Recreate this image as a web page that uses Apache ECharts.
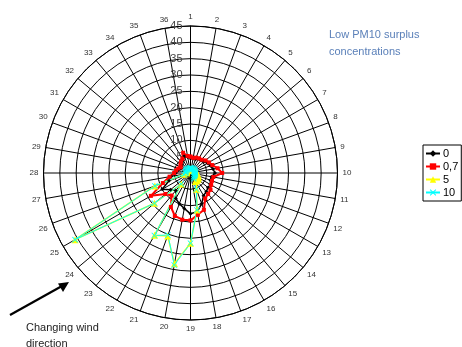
<!DOCTYPE html>
<html><head><meta charset="utf-8">
<script src="https://cdn.jsdelivr.net/npm/echarts@6/dist/echarts.min.js"></script>
<style>html,body{margin:0;padding:0;background:#fff}#c{width:462px;height:347px}</style>
</head><body><div id="c"></div>
<script>
// wind directions 1..36 (10 degree sectors, 1 = north, clockwise)
var directions = [];
for (var i = 1; i <= 36; i++) directions.push(i);
var radialTicks = [0,5,10,15,20,25,30,35,40,45];
var seriesNames = ['0', '0,7', '5', '10'];
var s0   = [4.5,4.5,4.5,5,5,5.5,6,6.5,7,7.5,6.5,6.5,7,7,7.5,8,10,12,12.5,11,10,9,7,8,10,7,6,4.5,4,3.5,3.5,3.5,4,4.5,5.5,5];
var s07  = [5,4.7,5,5.2,5.3,6,6.5,7.1,8.4,9.7,7.1,7,7.3,8,8.4,9,12,13,14.5,14.5,14,12,9,10,14,9,6.5,5,4.5,4,3.5,4,4.5,5,6.6,5.3];
var s5   = [1.2,1.2,1.2,1.2,1.2,1.2,1.5,1.5,1.8,2,2.2,2.5,2.8,3,3,3,5.3,11.5,21.5,28.2,20.5,22,4.4,14.4,40.8,11.6,2,1.2,1.2,1.2,1.2,1.2,1.2,1.2,1.2,1.2];
var s10  = [1.5,1.5,1.5,1.5,1.5,1.5,1.5,1.5,1.5,1.5,1.5,1.5,1.5,1.5,1.5,2,5.3,11.5,21.5,28.6,20.2,22.1,4.4,14.4,40.8,11.6,2,1.5,1.5,1.5,1.5,1.5,1.5,1.5,1.5,1.5];

function toPolar(vals){
  var out = vals.map(function(v, i){ return [v, (directions[i]-1)*10]; });
  out.push([vals[0], 360]);
  return out;
}
var xMark = 'path://M0,1L1,0L5,4L9,0L10,1L6,5L10,9L9,10L5,6L1,10L0,9L4,5Z';

var chart = echarts.init(document.getElementById('c'), null, {renderer:'canvas'});
chart.setOption({
  animation:false,
  backgroundColor:'#fff',
  polar:{center:[190.5,173], radius:147},
  angleAxis:{
    type:'value', min:0, max:360, interval:10, startAngle:90, clockwise:true,
    axisLine:{show:true, lineStyle:{color:'#000', width:1}},
    axisTick:{show:false},
    splitLine:{show:true, lineStyle:{color:'#000', width:1}},
    axisLabel:{show:true, margin:5, fontSize:8, color:'#333', fontFamily:'Liberation Sans, Arial',
      formatter:function(v){ return v>=360 ? '' : String(v/10+1); }}
  },
  radiusAxis:{
    type:'value', min:radialTicks[0], max:radialTicks[radialTicks.length-1], interval:5,
    axisLine:{show:true, lineStyle:{color:'#000', width:1}},
    axisTick:{show:false},
    splitLine:{show:true, lineStyle:{color:'#000', width:1}},
    axisLabel:{show:true, fontSize:11, color:'#444', fontFamily:'Liberation Sans, Arial', margin:8,
      formatter:function(v){ return v===0 ? '' : String(v); }}
  },
  legend:{
    orient:'vertical', left:423, top:145, itemWidth:14, itemHeight:8, itemGap:2,
    padding:[3,3,3,2], borderColor:'#000', borderWidth:1,
    textStyle:{fontSize:11, color:'#000', fontFamily:'Liberation Sans, Arial', padding:[0,0,0,-2]},
    data:seriesNames
  },
  series:[
    {name:seriesNames[0], type:'line', coordinateSystem:'polar', data:toPolar(s0),
     symbol:'diamond', symbolSize:4, lineStyle:{color:'#000', width:1.5}, itemStyle:{color:'#000'}},
    {name:seriesNames[1], type:'line', coordinateSystem:'polar', data:toPolar(s07),
     symbol:'rect', symbolSize:4, lineStyle:{color:'#ff0000', width:2}, itemStyle:{color:'#ff0000'}},
    {name:seriesNames[2], type:'line', coordinateSystem:'polar', data:toPolar(s5),
     symbol:'triangle', symbolSize:7, lineStyle:{color:'#ffff00', width:1.5}, itemStyle:{color:'#ffff00'}},
    {name:seriesNames[3], type:'line', coordinateSystem:'polar', data:toPolar(s10),
     symbol:xMark, symbolSize:6, lineStyle:{color:'#00ffff', width:1}, itemStyle:{color:'#00ffff'}}
  ],
  graphic:[
    {type:'text', left:329, top:26, style:{text:'Low PM10 surplus\nconcentrations', fill:'#5b80b9', fontSize:11, lineHeight:17, fontFamily:'Liberation Sans, Arial'}},
    {type:'text', left:26, top:320, style:{text:'Changing wind\ndirection', fill:'#222', fontSize:11, lineHeight:16, fontFamily:'Liberation Sans, Arial'}},
    {type:'line', shape:{x1:10, y1:315, x2:62, y2:286}, style:{stroke:'#000', lineWidth:2.2}},
    {type:'polygon', shape:{points:[[69,282],[58,283.5],[63,292]]}, style:{fill:'#000'}}
  ]
});
</script></body></html>
